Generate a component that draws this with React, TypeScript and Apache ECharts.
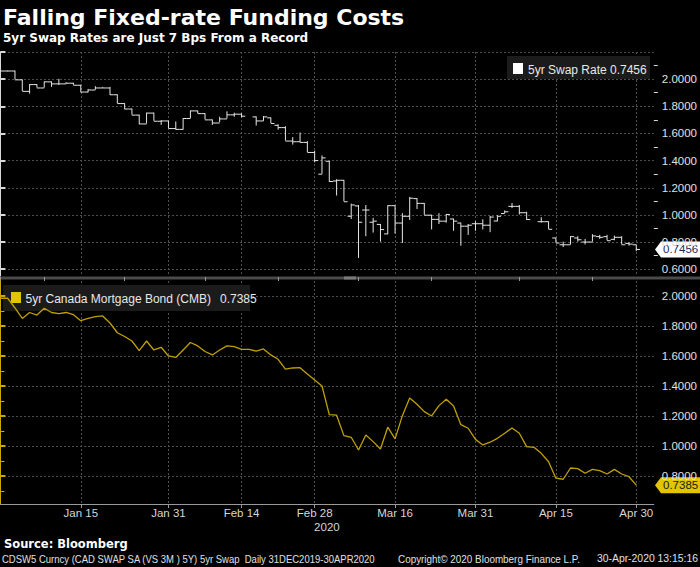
import React, { useEffect, useRef } from 'react';
import * as echarts from 'echarts';

// ---- data (index = weekday count from 31 Dec 2019) ----
const xLabelIdx = [11, 23, 33, 43, 54, 65, 76, 87];
const xLabels = ['Jan 15', 'Jan 31', 'Feb 14', 'Feb 28', 'Mar 16', 'Mar 31', 'Apr 15', 'Apr 30'];
const xMinorIdx = [0, 6, 17, 28, 38, 49, 59, 71, 81];

// 5yr Swap Rate OHLC (null = holiday)
const swapOpen = [
  2.06, 2.06, 2.06, 1.995, 1.91, 1.96, 1.935, 1.98, 1.965, 1.965,
  1.97, 1.955, 1.905, 1.92, 1.935, 1.935, 1.885, 1.82, 1.78, 1.735,
  1.67, 1.75, 1.69, 1.692, 1.636, 1.63, 1.71, 1.766, 1.746, 1.70,
  1.677, 1.707, 1.737, 1.742, null, 1.722, 1.692, 1.715, 1.66, 1.643,
  1.544, 1.539, 1.534, 1.46, 1.30, 1.395, 1.25, 1.255, 0.99, 1.066,
  1.036, 0.946, 0.93, 0.86, 1.068, 0.94, 0.99, 1.12, 1.085, 0.998,
  0.967, 0.954, 0.97, 0.94, 0.917, 0.935, 0.935, 0.924, 0.955, 1.01,
  1.063, 1.063, 1.016, null, 0.95, 0.95, 0.83, 0.78, 0.78, 0.83,
  0.80, 0.80, 0.84, 0.84, 0.82, 0.835, 0.79, 0.78,
];
const swapHigh = [
  2.06, 2.06, 2.06, 1.995, 1.96, 1.96, 1.98, 1.98, 2.0, 1.975,
  1.97, 1.955, 1.925, 1.945, 1.94, 1.94, 1.885, 1.82, 1.78, 1.735,
  1.75, 1.75, 1.695, 1.692, 1.685, 1.71, 1.766, 1.766, 1.746, 1.70,
  1.72, 1.76, 1.75, 1.745, null, 1.722, 1.725, 1.715, 1.665, 1.65,
  1.57, 1.604, 1.54, 1.47, 1.435, 1.395, 1.26, 1.255, 1.08, 1.07,
  1.07, 0.975, 0.93, 1.068, 1.068, 1.01, 1.13, 1.12, 1.085, 0.998,
  1.01, 1.005, 0.97, 0.94, 0.93, 0.95, 0.965, 0.99, 0.995, 1.03,
  1.085, 1.07, 1.02, null, 0.98, 0.95, 0.83, 0.80, 0.84, 0.84,
  0.82, 0.855, 0.85, 0.85, 0.845, 0.84, 0.795, 0.775,
];
const swapLow = [
  2.06, 2.06, 1.995, 1.91, 1.89, 1.935, 1.935, 1.94, 1.955, 1.965,
  1.955, 1.90, 1.90, 1.92, 1.935, 1.88, 1.82, 1.775, 1.735, 1.665,
  1.67, 1.69, 1.66, 1.636, 1.625, 1.625, 1.71, 1.745, 1.70, 1.66,
  1.68, 1.707, 1.72, 1.715, null, 1.655, 1.69, 1.673, 1.625, 1.544,
  1.515, 1.534, 1.46, 1.385, 1.30, 1.24, 1.14, 1.097, 0.967, 0.68,
  0.84, 0.867, 0.80, 0.855, 0.86, 0.79, 0.96, 1.04, 0.998, 0.89,
  0.93, 0.94, 0.88, 0.77, 0.85, 0.88, 0.89, 0.87, 0.95, 1.01,
  1.048, 1.0, 0.96, null, 0.94, 0.894, 0.793, 0.76, 0.78, 0.80,
  0.78, 0.80, 0.82, 0.81, 0.81, 0.78, 0.77, 0.73,
];
const swapClose = [
  2.06, 2.06, 1.995, 1.91, 1.96, 1.935, 1.98, 1.965, 1.965, 1.97,
  1.955, 1.905, 1.92, 1.935, 1.935, 1.885, 1.82, 1.78, 1.735, 1.67,
  1.75, 1.69, 1.692, 1.636, 1.63, 1.71, 1.766, 1.746, 1.70, 1.677,
  1.707, 1.737, 1.742, 1.727, null, 1.692, 1.722, 1.673, 1.643, 1.544,
  1.539, 1.534, 1.46, 1.40, 1.42, 1.246, 1.255, 1.097, 1.073, 0.946,
  1.036, 0.954, 0.892, 1.068, 0.94, 0.99, 1.123, 1.085, 0.998, 0.967,
  0.954, 1.003, 0.954, 0.917, 0.924, 0.935, 0.924, 0.984, 0.99, 1.023,
  1.063, 1.016, 0.966, null, 0.95, 0.894, 0.793, 0.78, 0.84, 0.817,
  0.80, 0.845, 0.835, 0.81, 0.835, 0.78, 0.785, 0.7456,
];

// 5yr Canada Mortgage Bond (CMB)
const cmbValues = [
  1.985, 1.985, 1.92, 1.85, 1.89, 1.873, 1.918, 1.89, 1.882, 1.89,
  1.875, 1.835, 1.85, 1.862, 1.867, 1.82, 1.755, 1.73, 1.70, 1.635,
  1.70, 1.64, 1.658, 1.60, 1.59, 1.64, 1.69, 1.667, 1.63, 1.607,
  1.64, 1.667, 1.662, 1.644, 1.644, 1.633, 1.647, 1.607, 1.578, 1.513,
  1.52, 1.522, 1.48, 1.44, 1.40, 1.209, 1.205, 1.069, 1.058, 0.973,
  1.073, 1.029, 0.98, 1.125, 1.047, 1.202, 1.32, 1.278, 1.229, 1.20,
  1.269, 1.311, 1.267, 1.142, 1.118, 1.044, 1.007, 1.025, 1.051, 1.085,
  1.12, 1.085, 0.996, 0.991, 0.951, 0.895, 0.785, 0.778, 0.853, 0.849,
  0.818, 0.844, 0.835, 0.813, 0.844, 0.813, 0.795, 0.7385,
];

const topTickVals = [0.6, 0.8, 1.0, 1.2, 1.4, 1.6, 1.8, 2.0, 2.2];
const topLabelVals = [0.6, 0.8, 1.0, 1.2, 1.4, 1.6, 1.8, 2.0];
const topMinorVals = [0.7, 0.9, 1.1, 1.3, 1.5, 1.7, 1.9, 2.1];
const botTickVals = [0.8, 1.0, 1.2, 1.4, 1.6, 1.8, 2.0];
const botMinorVals = [0.7, 0.9, 1.1, 1.3, 1.5, 1.7, 1.9];

const swapName = '5yr Swap Rate';
const cmbName = '5yr Canada Mortgage Bond (CMB)';

const FONT = 'Liberation Sans, Arial, sans-serif';
const BOLD = 'DejaVu Sans, Verdana, sans-serif';
const GRIDC = '#4f4f4f';
const YEL = '#c9a900';
const XMIN = -0.05;
const XMAX = 89.4;

export default function App() {
  const ref = useRef<HTMLDivElement>(null);
  useEffect(() => {
    if (!ref.current) return;
    const chart = echarts.init(ref.current, null, { renderer: 'svg' });

    const ohlc = swapClose
      .map((c, i) => (c == null ? null : [i, swapOpen[i], swapHigh[i], swapLow[i], c]))
      .filter((d) => d != null);
    const cmbData = cmbValues.map((v, i) => [i, v]);

    const split = { show: true, lineStyle: { color: GRIDC, type: [2, 2] as any, width: 1 } };

    chart.setOption({
      animation: false,
      backgroundColor: '#000',
      grid: [
        { left: 0, right: 46, top: 52, height: 224 },
        { left: 0, right: 46, top: 281, height: 223 },
      ],
      xAxis: [
        {
          type: 'value', gridIndex: 0, min: XMIN, max: XMAX,
          axisLine: { show: false },
          axisTick: { show: false, customValues: xLabelIdx },
          axisLabel: { show: false },
          splitLine: split,
        },
        {
          type: 'value', gridIndex: 1, min: XMIN, max: XMAX,
          axisLine: { show: true, lineStyle: { color: '#9a9a9a', width: 1 } },
          axisTick: { show: true, customValues: xLabelIdx, length: 4, lineStyle: { color: '#9a9a9a' } },
          axisLabel: {
            show: true, customValues: xLabelIdx, color: '#d6d6d6', fontSize: 11.5, fontFamily: FONT, margin: 3,
            formatter: (v: number) => xLabels[xLabelIdx.indexOf(Math.round(v))] ?? '',
          },
          splitLine: split,
          name: '2020', nameLocation: 'middle', nameGap: 17,
          nameTextStyle: { color: '#d6d6d6', fontSize: 11.5, fontFamily: FONT },
        },
        {
          type: 'value', gridIndex: 1, min: XMIN, max: XMAX,
          axisLine: { show: false },
          axisTick: { show: true, customValues: xMinorIdx, length: 4, lineStyle: { color: '#9a9a9a' } },
          axisLabel: { show: false },
          splitLine: { show: false },
        },
      ],
      yAxis: [
        {
          type: 'value', gridIndex: 0, position: 'right', min: 0.55, max: 2.2,
          axisLine: { show: true, lineStyle: { color: '#d8d8d8', width: 1 } },
          axisTick: { show: true, customValues: topTickVals, length: 5, lineStyle: { color: '#d8d8d8', width: 2 } },
          axisLabel: {
            show: true, customValues: topLabelVals, color: '#e0e0e0', fontSize: 11.5, fontFamily: FONT, margin: 8,
            formatter: (v: number) => v.toFixed(4),
          },
          splitLine: split,
        },
        {
          type: 'value', gridIndex: 0, position: 'right', min: 0.55, max: 2.2,
          axisLine: { show: false },
          axisTick: { show: true, customValues: topMinorVals, length: 4, lineStyle: { color: '#d8d8d8' } },
          axisLabel: { show: false },
          splitLine: { show: false },
        },
        {
          type: 'value', gridIndex: 1, position: 'right', min: 0.613, max: 2.1,
          axisLine: { show: true, lineStyle: { color: YEL, width: 1 } },
          axisTick: { show: true, customValues: botTickVals, length: 5, lineStyle: { color: YEL, width: 2 } },
          axisLabel: {
            show: true, customValues: botTickVals, color: '#e0e0e0', fontSize: 11.5, fontFamily: FONT, margin: 8,
            formatter: (v: number) => v.toFixed(4),
          },
          splitLine: split,
        },
        {
          type: 'value', gridIndex: 1, position: 'right', min: 0.613, max: 2.1,
          axisLine: { show: false },
          axisTick: { show: true, customValues: botMinorVals, length: 4, lineStyle: { color: YEL } },
          axisLabel: { show: false },
          splitLine: { show: false },
        },
      ],
      series: [
        {
          name: swapName,
          type: 'custom',
          xAxisIndex: 0,
          yAxisIndex: 0,
          encode: { x: 0, y: [1, 2, 3, 4] },
          data: ohlc,
          renderItem: (params: any, api: any) => {
            const x = api.value(0);
            const pO = api.coord([x, api.value(1)]);
            const pH = api.coord([x, api.value(2)]);
            const pL = api.coord([x, api.value(3)]);
            const pC = api.coord([x, api.value(4)]);
            const w = api.size([1, 0])[0] * 0.5;
            const style = { stroke: '#e6e6e6', lineWidth: 1 };
            const hl = Math.max(pL[1] - pH[1], 0.8);
            return {
              type: 'group',
              children: [
                { type: 'line', shape: { x1: pH[0], y1: pH[1] - 0.4, x2: pH[0], y2: pH[1] - 0.4 + hl }, style },
                { type: 'line', shape: { x1: pO[0] - w, y1: pO[1], x2: pO[0], y2: pO[1] }, style },
                { type: 'line', shape: { x1: pC[0], y1: pC[1], x2: pC[0] + w, y2: pC[1] }, style },
              ],
            };
          },
        },
        {
          name: cmbName,
          type: 'line',
          xAxisIndex: 1,
          yAxisIndex: 2,
          data: cmbData,
          showSymbol: false,
          symbol: 'none',
          lineStyle: { color: '#bfa000', width: 1.3 },
        },
      ],
    });

    const swapLast = swapClose[swapClose.length - 1] as number;
    const cmbLast = cmbValues[cmbValues.length - 1];
    const yTop = chart.convertToPixel({ yAxisIndex: 0 }, swapLast) as number;
    const yBot = chart.convertToPixel({ yAxisIndex: 2 }, cmbLast) as number;

    const tag = (y: number, fill: string, txt: string, textFill: string) => ({
      type: 'group',
      children: [
        {
          type: 'polygon',
          shape: { points: [[655, y], [661, y - 8], [700, y - 8], [700, y + 8], [661, y + 8]] },
          style: { fill },
        },
        {
          type: 'text', x: 663, y,
          style: { text: txt, fill: textFill, font: `11.5px ${FONT}`, verticalAlign: 'middle', align: 'left' },
        },
      ],
    });

    chart.setOption({
      graphic: [
        {
          type: 'text', x: 3, y: 17,
          style: { text: 'Falling Fixed-rate Funding Costs', fill: '#ffffff', font: `bold 22px ${BOLD}`, verticalAlign: 'middle' },
        },
        {
          type: 'text', x: 3, y: 38,
          style: { text: '5yr Swap Rates are Just 7 Bps From a Record', fill: '#ffffff', font: `bold 12px ${BOLD}`, verticalAlign: 'middle' },
        },
        { type: 'rect', shape: { x: 0, y: 276.5, width: 700, height: 3 }, style: { fill: '#4a4a4a' } },
        { type: 'rect', shape: { x: 344, y: 276.5, width: 12, height: 3 }, style: { fill: '#7a7a7a' } },
        // legends
        { type: 'rect', shape: { x: 507, y: 56, width: 143, height: 23 }, style: { fill: '#1b1b1b' } },
        { type: 'rect', shape: { x: 513, y: 63, width: 10, height: 11 }, style: { fill: '#ffffff' } },
        {
          type: 'text', x: 528, y: 69.5,
          style: { text: swapName, fill: '#e8e8e8', font: `12px ${FONT}`, verticalAlign: 'middle' },
        },
        {
          type: 'text', x: 610, y: 69.5,
          style: { text: swapLast.toFixed(4), fill: '#e8e8e8', font: `12px ${FONT}`, verticalAlign: 'middle' },
        },
        { type: 'rect', shape: { x: 3, y: 285, width: 247, height: 26 }, style: { fill: '#1b1b1b' } },
        { type: 'rect', shape: { x: 11, y: 292, width: 10, height: 11 }, style: { fill: '#e3c400' } },
        {
          type: 'text', x: 25.5, y: 299,
          style: { text: cmbName, fill: '#e8e8e8', font: `12px ${FONT}`, verticalAlign: 'middle' },
        },
        {
          type: 'text', x: 220, y: 299,
          style: { text: cmbLast.toFixed(4), fill: '#e8e8e8', font: `12px ${FONT}`, verticalAlign: 'middle' },
        },
        tag(yTop, '#ffffff', swapLast.toFixed(4), '#1a2a5a'),
        tag(yBot, '#e3c400', cmbLast.toFixed(4), '#1a1a1a'),
        // footer
        {
          type: 'text', x: 4, y: 544,
          style: { text: 'Source: Bloomberg', fill: '#ffffff', font: `bold 11.5px ${BOLD}`, verticalAlign: 'middle' },
        },
        {
          type: 'text', x: 2, y: 559, scaleX: 0.95,
          style: { text: 'CDSW5 Curncy (CAD SWAP SA (VS 3M ) 5Y) 5yr Swap  Daily 31DEC2019-30APR2020', fill: '#e0e0e0', font: `10px ${FONT}`, verticalAlign: 'middle' },
        },
        {
          type: 'text', x: 398, y: 559, scaleX: 0.99,
          style: { text: 'Copyright\u00a9 2020 Bloomberg Finance L.P.', fill: '#e0e0e0', font: `10px ${FONT}`, verticalAlign: 'middle' },
        },
        {
          type: 'text', x: 698, y: 559, scaleX: 1.04,
          style: { text: '30-Apr-2020 13:15:16', fill: '#e0e0e0', font: `10px ${FONT}`, verticalAlign: 'middle', align: 'right' },
        },
      ],
    });

    return () => chart.dispose();
  }, []);

  return (
    <div
      ref={ref}
      style={{ position: 'fixed', left: 0, top: 0, width: 700, height: 567, background: '#000' }}
    />
  );
}
